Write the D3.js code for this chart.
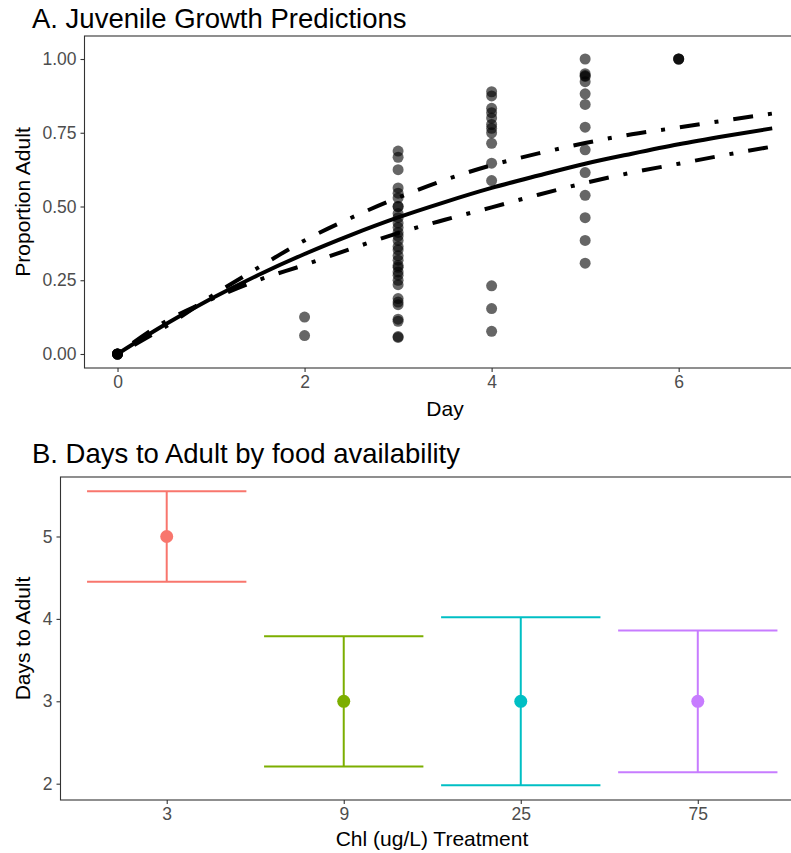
<!DOCTYPE html>
<html>
<head>
<meta charset="utf-8">
<script src="https://cdn.jsdelivr.net/npm/d3@7"></script>
<style>
  html, body { margin: 0; padding: 0; background: #fff; }
  svg { display: block; font-family: "Liberation Sans", Arial, Helvetica, sans-serif; }
</style>
</head>
<body>
<svg id="chart" width="791" height="853"></svg>
<script>
// ---------- Panel A data ----------
const obsDay = [
  0,0,0,0,0,0,
  2,2,
  3,3,3,3,3,3,3,3,3,3,3,3,3,3,3,3,3,3,3,3,3,3,3,3,3,3,3,3,3,3,3,3,
  4,4,4,4,4,4,4,4,4,4,4,4,4,4,
  5,5,5,5,5,5,5,5,5,5,5,5,5,5,
  6,6,6
];
const obsProp = [
  0,0,0,0,0,0,
  0.0625,0.125,
  0.688,0.667,0.625,0.563,0.545,0.529,0.5,0.5,0.476,0.462,0.444,0.429,0.412,0.4,0.385,0.364,
  0.353,0.333,0.318,0.3,0.294,0.278,0.267,0.25,0.235,0.188,0.176,0.167,0.118,0.111,0.059,0.056,
  0.889,0.875,0.833,0.818,0.8,0.778,0.765,0.75,0.714,0.647,0.588,0.231,0.154,0.077,
  1.0,0.95,0.944,0.941,0.923,0.882,0.846,0.769,0.692,0.615,0.538,0.462,0.385,0.308,
  1.0,1.0,1.0
];
const curveDays  = [0,0.5,1,1.5,2,2.5,3,3.5,4,4.5,5,5.5,6,6.5,7];
const fitProp    = [0,0.098,0.187,0.267,0.339,0.404,0.463,0.515,0.563,0.605,0.645,0.679,0.711,0.739,0.765];
const upperProp  = [0,0.09,0.195,0.292,0.385,0.462,0.53,0.59,0.64,0.68,0.715,0.745,0.768,0.792,0.815];
const lowerProp  = [0,0.108,0.185,0.25,0.302,0.357,0.41,0.455,0.497,0.54,0.58,0.615,0.645,0.675,0.703];
const dayTicks   = [0,2,4,6];
const propTicks  = [0,0.25,0.5,0.75,1];

// ---------- Panel B data ----------
const treatments = ["3","9","25","75"];
const daysMean   = [5,3,3,3];
const daysLower  = [4.45,2.21,1.98,2.14];
const daysUpper  = [5.55,3.79,4.02,3.86];
const trtColors  = ["#F8766D","#7CAE00","#00BFC4","#C77CFF"];
const daysTicks  = [2,3,4,5];

const svg = d3.select("#chart");
const axisColor = "#333333", tickTextColor = "#4D4D4D";
const TICK_FS = "17.5px", AXT_FS = "21px", TITLE_FS = "27.5px";

function styleAxis(g) {
  g.selectAll("path.domain").remove();
  g.selectAll(".tick line").attr("stroke", axisColor).attr("stroke-width", 1.1);
  g.selectAll(".tick text").attr("fill", tickTextColor).style("font-size", TICK_FS);
}

// ================= Panel A =================
const A = {left: 84.5, right: 804, top: 36, bottom: 368};
const xA = d3.scaleLinear().domain([-0.353, 7.34]).range([A.left, A.right]);
const yA = d3.scaleLinear().domain([-0.0475, 1.078]).range([A.bottom, A.top]);

const gA = svg.append("g");
gA.append("g").selectAll("circle").data(obsDay.map((d,i)=>({d, p: obsProp[i]})))
  .join("circle")
  .attr("cx", d => xA(d.d)).attr("cy", d => yA(d.p)).attr("r", 5.5)
  .attr("fill", "#000").attr("fill-opacity", 0.6);

const lineA = d3.line().x(d=>xA(d[0])).y(d=>yA(d[1])).curve(d3.curveMonotoneX);
function series(vals){ return curveDays.map((d,i)=>[d, vals[i]]); }
gA.append("path").datum(series(fitProp)).attr("d", lineA)
  .attr("fill","none").attr("stroke","#000").attr("stroke-width",4);
[upperProp, lowerProp].forEach(v => {
  gA.append("path").datum(series(v)).attr("d", lineA)
    .attr("fill","none").attr("stroke","#000").attr("stroke-width",4)
    .attr("stroke-dasharray","4,15,20,15");
});

gA.append("rect").attr("x", A.left).attr("y", A.top)
  .attr("width", A.right - A.left).attr("height", A.bottom - A.top)
  .attr("fill","none").attr("stroke", axisColor).attr("stroke-width", 1.1);

gA.append("g").attr("transform", `translate(0,${A.bottom})`)
  .call(d3.axisBottom(xA).tickValues(dayTicks).tickFormat(d3.format("d")).tickSize(4).tickPadding(4))
  .call(styleAxis);
gA.append("g").attr("transform", `translate(${A.left},0)`)
  .call(d3.axisLeft(yA).tickValues(propTicks).tickFormat(d3.format(".2f")).tickSize(4).tickPadding(4))
  .call(styleAxis);

svg.append("text").attr("x", 32).attr("y", 28).text("A. Juvenile Growth Predictions")
  .style("font-size", TITLE_FS).attr("fill","#000");
svg.append("text").attr("x", 445).attr("y", 416).attr("text-anchor","middle")
  .text("Day").style("font-size", AXT_FS).attr("fill","#000");
svg.append("text").attr("transform", `translate(30,${(A.top+A.bottom)/2}) rotate(-90)`)
  .attr("text-anchor","middle").text("Proportion Adult").style("font-size", AXT_FS).attr("fill","#000");

// ================= Panel B =================
const B = {left: 60.5, right: 804, top: 477, bottom: 800};
const xB = d3.scalePoint().domain(treatments).range([B.left, B.right]).padding(0.6);
const yB = d3.scaleLinear().domain([1.802, 5.722]).range([B.bottom, B.top]);
const half = xB.step() * 0.45;

const gB = svg.append("g");
const rows = treatments.map((t,i)=>({t, m: daysMean[i], lo: daysLower[i], hi: daysUpper[i], c: trtColors[i]}));
const eb = gB.selectAll("g.eb").data(rows).join("g").attr("class","eb");
eb.append("line").attr("x1", d=>xB(d.t)).attr("x2", d=>xB(d.t))
  .attr("y1", d=>yB(d.lo)).attr("y2", d=>yB(d.hi)).attr("stroke", d=>d.c).attr("stroke-width", 2);
eb.append("line").attr("x1", d=>xB(d.t)-half).attr("x2", d=>xB(d.t)+half)
  .attr("y1", d=>yB(d.hi)).attr("y2", d=>yB(d.hi)).attr("stroke", d=>d.c).attr("stroke-width", 2);
eb.append("line").attr("x1", d=>xB(d.t)-half).attr("x2", d=>xB(d.t)+half)
  .attr("y1", d=>yB(d.lo)).attr("y2", d=>yB(d.lo)).attr("stroke", d=>d.c).attr("stroke-width", 2);
eb.append("circle").attr("cx", d=>xB(d.t)).attr("cy", d=>yB(d.m)).attr("r", 6.5).attr("fill", d=>d.c);

gB.append("rect").attr("x", B.left).attr("y", B.top)
  .attr("width", B.right - B.left).attr("height", B.bottom - B.top)
  .attr("fill","none").attr("stroke", axisColor).attr("stroke-width", 1.1);

gB.append("g").attr("transform", `translate(0,${B.bottom})`)
  .call(d3.axisBottom(xB).tickSize(4).tickPadding(4))
  .call(styleAxis);
gB.append("g").attr("transform", `translate(${B.left},0)`)
  .call(d3.axisLeft(yB).tickValues(daysTicks).tickFormat(d3.format("d")).tickSize(4).tickPadding(4))
  .call(styleAxis);

svg.append("text").attr("x", 32).attr("y", 463).text("B. Days to Adult by food availability")
  .style("font-size", TITLE_FS).attr("fill","#000");
svg.append("text").attr("x", 432).attr("y", 846).attr("text-anchor","middle")
  .text("Chl (ug/L) Treatment").style("font-size", AXT_FS).attr("fill","#000");
svg.append("text").attr("transform", `translate(30,${(B.top+B.bottom)/2}) rotate(-90)`)
  .attr("text-anchor","middle").text("Days to Adult").style("font-size", AXT_FS).attr("fill","#000");
</script>
</body>
</html>
